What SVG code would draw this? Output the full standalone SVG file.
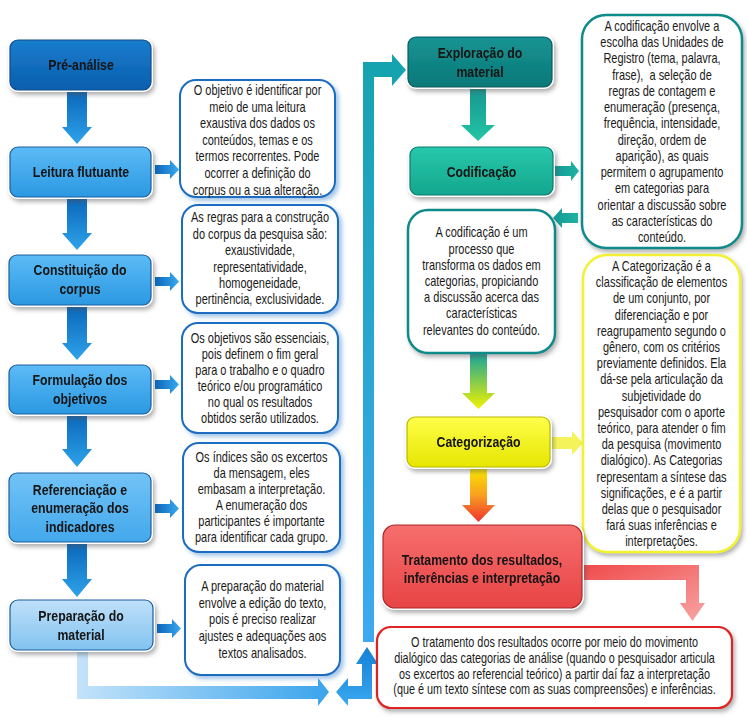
<svg xmlns="http://www.w3.org/2000/svg" width="747" height="719" viewBox="0 0 747 719">
<defs>
<style>
.lbl{font-family:'Liberation Sans',Arial,sans-serif;font-weight:bold;font-size:15px;fill:#141414;text-anchor:middle}
.txt{font-family:'Liberation Sans',Arial,sans-serif;font-size:14px;fill:#1a1a1a;text-anchor:middle}
.tb{fill:#fff;stroke:#1a6cc0;stroke-width:2}
</style>
<filter id="sh" x="-10%" y="-10%" width="125%" height="130%"><feDropShadow dx="2" dy="3" stdDeviation="2" flood-color="#555" flood-opacity="0.45"/></filter>
<filter id="shb" x="-10%" y="-10%" width="125%" height="130%"><feDropShadow dx="3" dy="3" stdDeviation="2" flood-color="#4a8fd0" flood-opacity="0.5"/></filter>
<linearGradient id="gDark" x1="0" y1="0" x2="0" y2="1"><stop offset="0" stop-color="#1a7ccd"/><stop offset="1" stop-color="#0a5eae"/></linearGradient>
<linearGradient id="gBlue" x1="0" y1="0" x2="0" y2="1"><stop offset="0" stop-color="#5cbbf6"/><stop offset="1" stop-color="#2b98e2"/></linearGradient>
<linearGradient id="gRef" x1="0" y1="0" x2="0" y2="1"><stop offset="0" stop-color="#72c3f6"/><stop offset="1" stop-color="#43a8ec"/></linearGradient>
<linearGradient id="gPrep" x1="0" y1="0" x2="0" y2="1"><stop offset="0" stop-color="#bfe0f9"/><stop offset="1" stop-color="#82c3f0"/></linearGradient>
<linearGradient id="gExpl" x1="0" y1="0" x2="0" y2="1"><stop offset="0" stop-color="#179393"/><stop offset="1" stop-color="#0b7878"/></linearGradient>
<linearGradient id="gCod" x1="0" y1="0" x2="0" y2="1"><stop offset="0" stop-color="#27c8ab"/><stop offset="1" stop-color="#14a68e"/></linearGradient>
<linearGradient id="gYel" x1="0" y1="0" x2="0" y2="1"><stop offset="0" stop-color="#ffff4a"/><stop offset="1" stop-color="#e6e600"/></linearGradient>
<linearGradient id="gRed" x1="0" y1="0" x2="0" y2="1"><stop offset="0" stop-color="#f66e6e"/><stop offset="1" stop-color="#e84444"/></linearGradient>
<linearGradient id="aDown" x1="0" y1="0" x2="0" y2="1"><stop offset="0" stop-color="#0a66ba"/><stop offset="1" stop-color="#2ea3ea"/></linearGradient>
<linearGradient id="aRight" x1="0" y1="0" x2="1" y2="0"><stop offset="0" stop-color="#0a66ba"/><stop offset="1" stop-color="#3aaaf0"/></linearGradient>
<linearGradient id="aBottom" x1="0" y1="0" x2="1" y2="0"><stop offset="0" stop-color="#c4e3fa"/><stop offset="1" stop-color="#3aa4ec"/></linearGradient>
<linearGradient id="aUp" x1="0" y1="0" x2="0" y2="1"><stop offset="0" stop-color="#1580d6"/><stop offset="1" stop-color="#3aa8f0"/></linearGradient>
<linearGradient id="aLong" x1="0" y1="0" x2="0" y2="1"><stop offset="0" stop-color="#15a3ae"/><stop offset="1" stop-color="#3ea9f2"/></linearGradient>
<linearGradient id="aTeal" x1="0" y1="0" x2="0" y2="1"><stop offset="0" stop-color="#17958f"/><stop offset="1" stop-color="#22c6a5"/></linearGradient>
<linearGradient id="aTealH" x1="0" y1="0" x2="1" y2="0"><stop offset="0" stop-color="#139a94"/><stop offset="1" stop-color="#1fb3a3"/></linearGradient>
<linearGradient id="aTY" x1="0" y1="0" x2="0" y2="1"><stop offset="0" stop-color="#17a59a"/><stop offset="1" stop-color="#f2f200"/></linearGradient>
<linearGradient id="aYR" x1="0" y1="0" x2="0" y2="1"><stop offset="0" stop-color="#f8e800"/><stop offset="0.5" stop-color="#f8a020"/><stop offset="1" stop-color="#f03030"/></linearGradient>
<linearGradient id="aRedL" x1="0" y1="0" x2="1" y2="1"><stop offset="0" stop-color="#f04a4a"/><stop offset="1" stop-color="#f8a4a4"/></linearGradient>
</defs>
<rect width="747" height="719" fill="#fff"/>

<g id="connectors">
<polygon points="67,91 87,91 87,127 92,127 77,144 62,127 67,127" fill="url(#aDown)"/>
<polygon points="67,198 87,198 87,233 92,233 77,250 62,233 67,233" fill="url(#aDown)"/>
<polygon points="67,306 87,306 87,343 92,343 77,360 62,343 67,343" fill="url(#aDown)"/>
<polygon points="67,414 87,414 87,449 92,449 77,467 62,449 67,449" fill="url(#aDown)"/>
<polygon points="67,543 87,543 87,579 92,579 77,597 62,579 67,579" fill="url(#aDown)"/>
<polygon points="155,165 170,165 170,160 179,169.5 170,179 170,174 155,174" fill="url(#aRight)"/>
<polygon points="155,277 170,277 170,272 179,281.5 170,291 170,286 155,286" fill="url(#aRight)"/>
<polygon points="155,380 170,380 170,375 179,384.5 170,394 170,389 155,389" fill="url(#aRight)"/>
<polygon points="155,504 170,504 170,499 179,508.5 170,518 170,513 155,513" fill="url(#aRight)"/>
<polygon points="157,624 172,624 172,619 181,628.5 172,638 172,633 157,633" fill="url(#aRight)"/>
<polygon points="77,651 88,651 88,686 318,686 318,678 329,692 318,706 318,699 77,699" fill="url(#aBottom)"/>
<polygon points="336,692 348,678 348,686 362,686 362,664 356,664 367,647 378,664 372,664 372,699 348,699 348,706" fill="url(#aUp)"/>
<polygon points="363,642 363,62 392,62 392,54 406,70 392,86 392,77 374,77 374,642" fill="url(#aLong)"/>
<polygon points="470,88 486,88 486,125 495,125 478,141 461,125 470,125" fill="url(#aTeal)"/>
<polygon points="555,166 571,166 571,161 579,171 571,181 571,176 555,176" fill="url(#aTealH)"/>
<polygon points="578,213 562,213 562,208 553,218 562,228 562,223 578,223" fill="url(#aTealH)"/>
<polygon points="470,354 487,354 487,393 495,393 478.5,409 462,393 470,393" fill="url(#aTY)"/>
<polygon points="552,437 572,437 572,431 583,443 572,455 572,449 552,449" fill="#f4f45a"/>
<polygon points="470,468 487,468 487,505 495,505 478.5,522 462,505 470,505" fill="url(#aYR)"/>
<polygon points="582,565 699,565 699,603 705,603 692.5,621 680,603 686,603 686,580 582,580" fill="url(#aRedL)"/>
</g>

<g id="pre-analise" filter="url(#sh)">
<rect x="8" y="38" width="145" height="54" rx="10" fill="#fff"/>
<rect x="10" y="40" width="141" height="50" rx="8" fill="url(#gDark)" stroke="#0c4c8c" stroke-width="1.2"/>
<g transform="translate(81 0) scale(0.82 1)"><text class="lbl" x="0" y="70">Pré-análise</text></g>
</g>
<g id="leitura" filter="url(#sh)">
<rect x="8" y="145" width="145" height="54" rx="10" fill="#fff"/>
<rect x="10" y="147" width="141" height="50" rx="8" fill="url(#gBlue)" stroke="#1c5e9e" stroke-width="1.2"/>
<g transform="translate(81 0) scale(0.82 1)"><text class="lbl" x="0" y="177">Leitura flutuante</text></g>
</g>
<g id="constituicao" filter="url(#sh)">
<rect x="7" y="253" width="146" height="54" rx="10" fill="#fff"/>
<rect x="9" y="255" width="142" height="50" rx="8" fill="url(#gBlue)" stroke="#1c5e9e" stroke-width="1.2"/>
<g transform="translate(80 0) scale(0.82 1)"><text class="lbl" x="0" y="275">Constituição do</text>
<text class="lbl" x="0" y="294">corpus</text></g>
</g>
<g id="formulacao" filter="url(#sh)">
<rect x="7" y="363" width="146" height="53" rx="10" fill="#fff"/>
<rect x="9" y="365" width="142" height="49" rx="8" fill="url(#gBlue)" stroke="#1c5e9e" stroke-width="1.2"/>
<g transform="translate(80 0) scale(0.82 1)"><text class="lbl" x="0" y="385">Formulação dos</text>
<text class="lbl" x="0" y="404.5">objetivos</text></g>
</g>
<g id="referenciacao" filter="url(#sh)">
<rect x="7" y="471" width="146" height="73" rx="10" fill="#fff"/>
<rect x="9" y="473" width="142" height="69" rx="8" fill="url(#gRef)" stroke="#1c5e9e" stroke-width="1.2"/>
<g transform="translate(80 0) scale(0.82 1)"><text class="lbl" x="0" y="495">Referenciação e</text>
<text class="lbl" x="0" y="513.5">enumeração dos</text>
<text class="lbl" x="0" y="532">indicadores</text></g>
</g>
<g id="preparacao" filter="url(#sh)">
<rect x="8" y="598" width="147" height="54" rx="10" fill="#fff"/>
<rect x="10" y="600" width="143" height="50" rx="8" fill="url(#gPrep)" stroke="#1c5e9e" stroke-width="1.2"/>
<g transform="translate(81 0) scale(0.82 1)"><text class="lbl" x="0" y="621.5">Preparação do</text>
<text class="lbl" x="0" y="640.5">material</text></g>
</g>

<g id="texto-leitura">
<rect class="tb" x="180" y="80" width="155" height="117" rx="16" filter="url(#shb)"/>
<g transform="translate(257.5 0) scale(0.785 1)">
<text class="txt" x="0" y="95">O objetivo é identificar por</text>
<text class="txt" x="0" y="111.6">meio de uma leitura</text>
<text class="txt" x="0" y="128.2">exaustiva dos dados os</text>
<text class="txt" x="0" y="144.8">conteúdos, temas e os</text>
<text class="txt" x="0" y="161.4">termos recorrentes. Pode</text>
<text class="txt" x="0" y="178">ocorrer a definição do</text>
<text class="txt" x="0" y="194.6">corpus ou a sua alteração.</text>
</g>
</g>
<g id="texto-constituicao">
<rect class="tb" x="182" y="205" width="156" height="108" rx="16" filter="url(#shb)"/>
<g transform="translate(260 0) scale(0.785 1)">
<text class="txt" x="0" y="222.5">As regras para a construção</text>
<text class="txt" x="0" y="238.9">do corpus da pesquisa são:</text>
<text class="txt" x="0" y="255.3">exaustividade,</text>
<text class="txt" x="0" y="271.7">representatividade,</text>
<text class="txt" x="0" y="288.1">homogeneidade,</text>
<text class="txt" x="0" y="304.5">pertinência, exclusividade.</text>
</g>
</g>
<g id="texto-formulacao">
<rect class="tb" x="182" y="323" width="156" height="110" rx="16" filter="url(#shb)"/>
<g transform="translate(260 0) scale(0.785 1)">
<text class="txt" x="0" y="342.5">Os objetivos são essenciais,</text>
<text class="txt" x="0" y="358.7">pois definem o fim geral</text>
<text class="txt" x="0" y="374.9">para o trabalho e o quadro</text>
<text class="txt" x="0" y="391.1">teórico e/ou programático</text>
<text class="txt" x="0" y="407.3">no qual os resultados</text>
<text class="txt" x="0" y="423.5">obtidos serão utilizados.</text>
</g>
</g>
<g id="texto-referenciacao">
<rect class="tb" x="183" y="443" width="157" height="109" rx="16" filter="url(#shb)"/>
<g transform="translate(261.5 0) scale(0.785 1)">
<text class="txt" x="0" y="462.5">Os índices são os excertos</text>
<text class="txt" x="0" y="478.5">da mensagem, eles</text>
<text class="txt" x="0" y="494.5">embasam a interpretação.</text>
<text class="txt" x="0" y="510.5">A enumeração dos</text>
<text class="txt" x="0" y="526.5">participantes é importante</text>
<text class="txt" x="0" y="542.5">para identificar cada grupo.</text>
</g>
</g>
<g id="texto-preparacao">
<rect class="tb" x="185" y="565" width="155" height="110" rx="16" filter="url(#shb)"/>
<g transform="translate(262.5 0) scale(0.785 1)">
<text class="txt" x="0" y="591">A preparação do material</text>
<text class="txt" x="0" y="607.7">envolve a edição do texto,</text>
<text class="txt" x="0" y="624.3">pois é preciso realizar</text>
<text class="txt" x="0" y="641">ajustes e adequações aos</text>
<text class="txt" x="0" y="657.6">textos analisados.</text>
</g>
</g>

<g id="exploracao" filter="url(#sh)">
<rect x="406" y="35" width="148" height="54" rx="10" fill="#fff"/>
<rect x="408" y="37" width="144" height="50" rx="8" fill="url(#gExpl)" stroke="#0a5c5c" stroke-width="1.2"/>
<g transform="translate(480 0) scale(0.82 1)"><text class="lbl" x="0" y="58.5">Exploração do</text>
<text class="lbl" x="0" y="77">material</text></g>
</g>
<g id="codificacao" filter="url(#sh)">
<rect x="408" y="145" width="147" height="52" rx="10" fill="#fff"/>
<rect x="410" y="147" width="143" height="48" rx="8" fill="url(#gCod)" stroke="#0c7a70" stroke-width="1.2"/>
<g transform="translate(481.5 0) scale(0.82 1)"><text class="lbl" x="0" y="177">Codificação</text></g>
</g>
<g id="texto-codificacao">
<rect x="582" y="15" width="160" height="233" rx="24" fill="#fff" stroke="#0e8a8a" stroke-width="2.5" filter="url(#sh)"/>
<g transform="translate(662 0) scale(0.785 1)">
<text class="txt" x="0" y="31">A codificação envolve a</text>
<text class="txt" x="0" y="47.25">escolha das Unidades de</text>
<text class="txt" x="0" y="63.5">Registro (tema, palavra,</text>
<text class="txt" x="0" y="79.75" xml:space="preserve">frase),  a seleção de</text>
<text class="txt" x="0" y="96">regras de contagem e</text>
<text class="txt" x="0" y="112.25">enumeração (presença,</text>
<text class="txt" x="0" y="128.5">frequência, intensidade,</text>
<text class="txt" x="0" y="144.75">direção, ordem de</text>
<text class="txt" x="0" y="161">aparição), as quais</text>
<text class="txt" x="0" y="177.25">permitem o agrupamento</text>
<text class="txt" x="0" y="193.5">em categorias para</text>
<text class="txt" x="0" y="209.75">orientar a discussão sobre</text>
<text class="txt" x="0" y="226">as características do</text>
<text class="txt" x="0" y="242.25">conteúdo.</text>
</g>
</g>
<g id="texto-processo">
<rect x="408" y="210" width="147" height="143" rx="20" fill="#fff" stroke="#0e8a8a" stroke-width="2.5" filter="url(#sh)"/>
<g transform="translate(481.5 0) scale(0.785 1)">
<text class="txt" x="0" y="237.5">A codificação é um</text>
<text class="txt" x="0" y="253.7">processo que</text>
<text class="txt" x="0" y="269.9">transforma os dados em</text>
<text class="txt" x="0" y="286.1">categorias, propiciando</text>
<text class="txt" x="0" y="302.3">a discussão acerca das</text>
<text class="txt" x="0" y="318.5">características</text>
<text class="txt" x="0" y="334.7">relevantes do conteúdo.</text>
</g>
</g>
<g id="categorizacao" filter="url(#sh)">
<rect x="405" y="415" width="147" height="54" rx="10" fill="#fff"/>
<rect x="407" y="417" width="143" height="50" rx="8" fill="url(#gYel)" stroke="#b8b800" stroke-width="1.2"/>
<g transform="translate(478.5 0) scale(0.82 1)"><text class="lbl" x="0" y="447">Categorização</text></g>
</g>
<g id="texto-categorizacao">
<rect x="583" y="255" width="157" height="297" rx="24" fill="#fff" stroke="#f2f230" stroke-width="2.5" filter="url(#sh)"/>
<g transform="translate(661.5 0) scale(0.785 1)">
<text class="txt" x="0" y="271">A Categorização é a</text>
<text class="txt" x="0" y="287.2">classificação de elementos</text>
<text class="txt" x="0" y="303.4">de um conjunto, por</text>
<text class="txt" x="0" y="319.6">diferenciação e por</text>
<text class="txt" x="0" y="335.8">reagrupamento segundo o</text>
<text class="txt" x="0" y="352">gênero, com os critérios</text>
<text class="txt" x="0" y="368.2">previamente definidos. Ela</text>
<text class="txt" x="0" y="384.4">dá-se pela articulação da</text>
<text class="txt" x="0" y="400.6">subjetividade do</text>
<text class="txt" x="0" y="416.8">pesquisador com o aporte</text>
<text class="txt" x="0" y="433">teórico, para atender o fim</text>
<text class="txt" x="0" y="449.2">da pesquisa (movimento</text>
<text class="txt" x="0" y="465.4">dialógico). As Categorias</text>
<text class="txt" x="0" y="481.6">representam a síntese das</text>
<text class="txt" x="0" y="497.8">significações, e é a partir</text>
<text class="txt" x="0" y="514">delas que o pesquisador</text>
<text class="txt" x="0" y="530.2">fará suas inferências e</text>
<text class="txt" x="0" y="546.4">interpretações.</text>
</g>
</g>
<g id="tratamento" filter="url(#sh)">
<rect x="381" y="523" width="203" height="87" rx="14" fill="#fff"/>
<rect x="383" y="525" width="199" height="83" rx="12" fill="url(#gRed)" stroke="#a82828" stroke-width="1.2"/>
<g transform="translate(482 0) scale(0.82 1)"><text class="lbl" x="0" y="565.5">Tratamento dos resultados,</text>
<text class="lbl" x="0" y="583.5">inferências e interpretação</text></g>
</g>
<g id="texto-tratamento">
<rect x="377" y="627" width="355" height="81" rx="14" fill="#fff" stroke="#e02020" stroke-width="2.2" filter="url(#sh)"/>
<g transform="translate(554.5 0) scale(0.775 1)">
<text class="txt" x="0" y="647.5">O tratamento dos resultados ocorre por meio do movimento</text>
<text class="txt" x="0" y="663.1">dialógico das categorias de análise (quando o pesquisador articula</text>
<text class="txt" x="0" y="678.7">os excertos ao referencial teórico) a partir daí faz a interpretação</text>
<text class="txt" x="0" y="694.3">(que é um texto síntese com as suas compreensões) e inferências.</text>
</g>
</g>
</svg>
